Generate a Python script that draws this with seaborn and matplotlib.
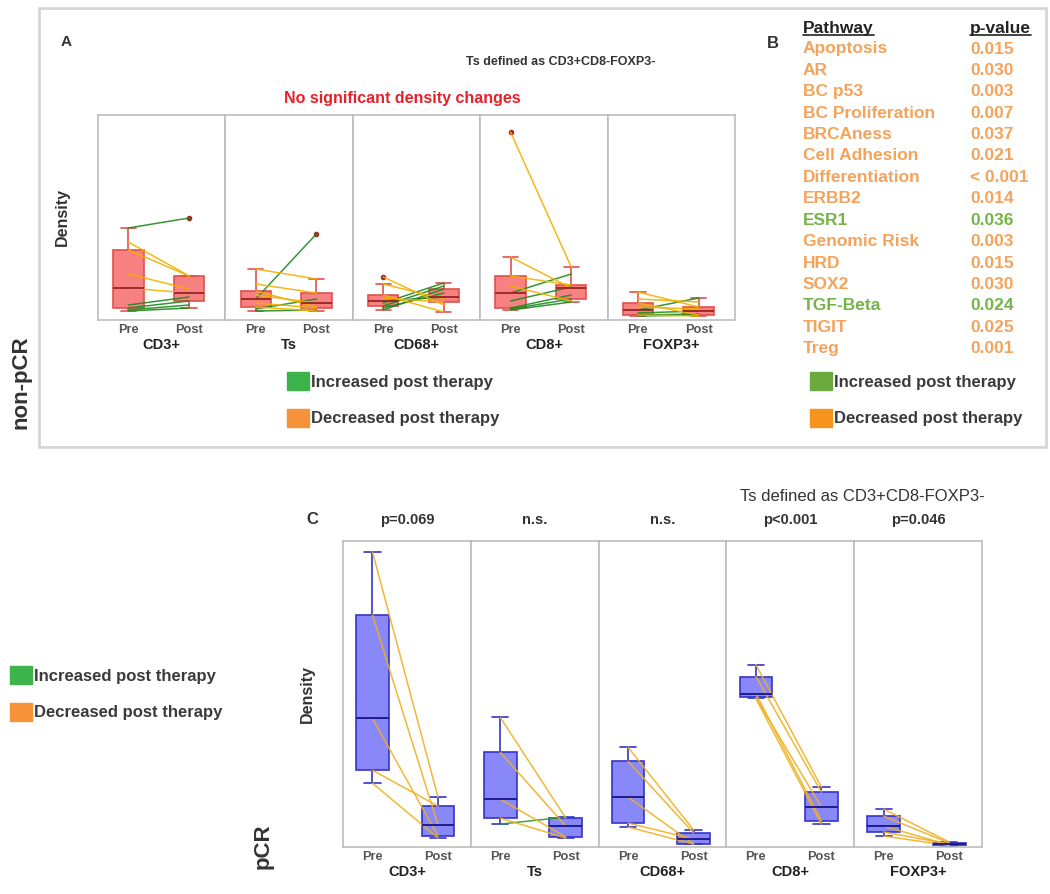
import matplotlib
matplotlib.use("Agg")
import matplotlib.pyplot as plt
from matplotlib.patches import Patch, Rectangle
from matplotlib.lines import Line2D
import seaborn as sns
import pandas as pd

# ---- data (density, paired pre/post per patient) ----
markers = ["CD3+", "Ts", "CD68+", "CD8+", "FOXP3+"]

# non-pCR, 9 patients
np_cd3_pre = [8, 9, 11, 14, 31, 45, 69, 77, 91]
np_cd3_post = [11, 14, 18, 22, 26, 30, 43, 43, 101]
np_ts_pre = [8, 10, 12, 16, 20, 24, 28, 35, 50]
np_ts_post = [9, 20, 8, 11, 85, 16, 12, 26, 40]
np_cd68_pre = [9, 11, 13, 16, 18, 21, 24, 35, 42]
np_cd68_post = [30, 26, 33, 36, 22, 17, 7, 20, 14]
np_cd8_pre = [9, 10, 11, 18, 26, 33, 43, 62, 187]
np_cd8_post = [17, 20, 24, 32, 45, 18, 34, 31, 52]
np_foxp3_pre = [3, 4, 4, 6, 9, 12, 16, 20, 27]
np_foxp3_post = [4, 5, 3, 8, 21, 10, 4, 17, 12]

# pCR, 5 patients
pc_cd3_pre = [63, 76, 128, 232, 295]
pc_cd3_post = [8, 40, 10, 21, 49]
pc_ts_pre = [22, 28, 47, 94, 129]
pc_ts_post = [29, 8, 9, 20, 28]
pc_cd68_pre = [19, 23, 49, 85, 99]
pc_cd68_post = [2, 7, 2, 13, 16]
pc_cd8_pre = [148, 149, 153, 170, 182]
pc_cd8_post = [22, 39, 25, 54, 59]
pc_foxp3_pre = [10, 14, 20, 30, 37]
pc_foxp3_post = [0.5, 2, 1, 3, 4]

pc_pvalues = ["p=0.069", "n.s.", "n.s.", "p<0.001", "p=0.046"]

# panel B table
pathways = ["Apoptosis", "AR", "BC p53", "BC Proliferation", "BRCAness",
            "Cell Adhesion", "Differentiation", "ERBB2", "ESR1", "Genomic Risk",
            "HRD", "SOX2", "TGF-Beta", "TIGIT", "Treg"]
pathway_p = ["0.015", "0.030", "0.003", "0.007", "0.037", "0.021", "< 0.001",
             "0.014", "0.036", "0.003", "0.015", "0.030", "0.024", "0.025", "0.001"]
pathway_dir = ["dec", "dec", "dec", "dec", "dec", "dec", "dec", "dec", "inc",
               "dec", "dec", "dec", "inc", "dec", "dec"]


def build(pre_lists, post_lists):
    rows = []
    for m, pre, post in zip(markers, pre_lists, post_lists):
        for i, (a, b) in enumerate(zip(pre, post)):
            ch = "Increased" if b > a else "Decreased"
            rows.append(dict(marker=m, patient=i, time="Pre", value=a, change=ch))
            rows.append(dict(marker=m, patient=i, time="Post", value=b, change=ch))
    return pd.DataFrame(rows)


df_np = build([np_cd3_pre, np_ts_pre, np_cd68_pre, np_cd8_pre, np_foxp3_pre],
              [np_cd3_post, np_ts_post, np_cd68_post, np_cd8_post, np_foxp3_post])
df_pc = build([pc_cd3_pre, pc_ts_pre, pc_cd68_pre, pc_cd8_pre, pc_foxp3_pre],
              [pc_cd3_post, pc_ts_post, pc_cd68_post, pc_cd8_post, pc_foxp3_post])

sns.set_style("white")
plt.rcParams["font.family"] = ["Liberation Sans", "DejaVu Sans"]

W, H = 1050, 894
fig = plt.figure(figsize=(W / 100, H / 100), dpi=100)


def fx(px):
    return px / W


def fy(py):
    return 1 - py / H


def draw_panel(df, x0, x1, y0, y1, box_rgba, edge, med, line_pal, ylim, xlim,
               lab_pad, titles=None):
    fw = (x1 - x0) / 5
    for k, m in enumerate(markers):
        ax = fig.add_axes([fx(x0 + k * fw), fy(y1), fw / W, (y1 - y0) / H])
        sub = df[df.marker == m]
        sns.boxplot(data=sub, x="time", y="value", order=["Pre", "Post"],
                    width=0.5, linecolor=edge, linewidth=1.2, fliersize=3,
                    boxprops={"facecolor": box_rgba},
                    medianprops={"color": med, "linewidth": 1.4},
                    flierprops={"marker": "o", "markerfacecolor": "#a52a2a",
                                "markeredgecolor": "#a52a2a"},
                    ax=ax)
        sns.lineplot(data=sub, x="time", y="value", units="patient",
                     estimator=None, hue="change", palette=line_pal,
                     linewidth=1.1, alpha=0.9, legend=False, ax=ax)
        ax.set_xlim(*xlim)
        ax.set_ylim(*ylim)
        ax.set_yticks([])
        ax.set_ylabel("Density" if k == 0 else "", fontsize=11.5,
                      fontweight="bold", color="#333", labelpad=20)
        ax.set_xlabel(m, fontsize=10.5, fontweight="bold", color="#222",
                      labelpad=lab_pad)
        ax.tick_params(axis="x", length=0, pad=3, labelsize=9.2, labelcolor="#555")
        for t in ax.get_xticklabels():
            t.set_fontweight("bold")
        for s in ax.spines.values():
            s.set_color("#bdbdbd")
            s.set_linewidth(1.2)
        if titles is not None:
            ax.set_title(titles[k], fontsize=10.5, fontweight="bold",
                         color="#333", pad=12)


# panel A (non-pCR)
draw_panel(df_np, 98, 735, 115, 320, (0.97, 0.45, 0.45, 0.9), "#e0504d",
           "#9e2a2a", {"Increased": "#1f8a1f", "Decreased": "#f2b100"},
           (-1, 204), (-0.5, 1.6), 1)
# panel C (pCR)
draw_panel(df_pc, 343, 982, 541, 847, (0.45, 0.45, 0.97, 0.85), "#3535c8",
           "#1d1d8f", {"Increased": "#2c9a2c", "Decreased": "#f0b020"},
           (-1, 306), (-0.45, 1.5), 1, titles=pc_pvalues)

# outer frame for top section
fig.add_artist(Rectangle((fx(39), fy(447)), (1046 - 39) / W, (447 - 8) / H,
                         fill=False, edgecolor="#d6d6d6", linewidth=2,
                         transform=fig.transFigure))

bold = dict(fontweight="bold")
fig.text(fx(66), fy(42), "A", fontsize=11, color="#333", ha="center", va="center", **bold)
fig.text(fx(655), fy(62), "Ts defined as CD3+CD8-FOXP3-", fontsize=9,
         color="#333", ha="right", va="center", **bold)
fig.text(fx(402), fy(98), "No significant density changes", fontsize=11.5,
         color="#e8202a", ha="center", va="center", **bold)
fig.text(fx(21), fy(382), "non-pCR", fontsize=16, color="#333", rotation=90,
         ha="center", va="center", **bold)

fig.text(fx(312), fy(520), "C", fontsize=12, color="#333", ha="center", va="center", **bold)
fig.text(fx(985), fy(497), "Ts defined as CD3+CD8-FOXP3-", fontsize=12,
         color="#333", ha="right", va="center")
fig.text(fx(263), fy(846), "pCR", fontsize=16, color="#333", rotation=90,
         ha="center", va="center", **bold)

# panel B table
fig.text(fx(773), fy(44), "B", fontsize=12, color="#333", ha="center", va="center", **bold)
hdr1 = fig.text(fx(803), fy(28), "Pathway", fontsize=12.5, color="#222",
                ha="left", va="center", **bold)
hdr2 = fig.text(fx(970), fy(28), "p-value", fontsize=12.5, color="#222",
                ha="left", va="center", **bold)
tab_col = {"dec": "#f4a35a", "inc": "#76b447"}
for i, (name, p, d) in enumerate(zip(pathways, pathway_p, pathway_dir)):
    yy = 49 + i * 21.4
    fig.text(fx(803), fy(yy), name, fontsize=12.5, color=tab_col[d],
             ha="left", va="center", **bold)
    fig.text(fx(970), fy(yy), p, fontsize=12.5, color=tab_col[d],
             ha="left", va="center", **bold)

fig.canvas.draw()
for t in (hdr1, hdr2):
    bb = t.get_window_extent()
    fig.add_artist(Line2D([bb.x0, bb.x1], [bb.y0 + 1, bb.y0 + 1], color="#222",
                          linewidth=1.2, transform=None))

# legends
leg_font = dict(family=["Liberation Sans", "DejaVu Sans"], weight="bold", size=12)


def add_legend(px, py, green, orange):
    handles = [Patch(facecolor=green, edgecolor=green),
               Patch(facecolor=orange, edgecolor=orange)]
    fig.legend(handles, ["Increased post therapy", "Decreased post therapy"],
               loc="upper left", bbox_to_anchor=(fx(px), fy(py)), frameon=False,
               borderpad=0, borderaxespad=0, handlelength=1.3, handleheight=1.3,
               handletextpad=0.15, labelspacing=1.1, prop=leg_font,
               labelcolor="#3a3a3a")


add_legend(287, 372, "#3cb44b", "#f7923a")
add_legend(810, 372, "#6aaa3e", "#f7941d")
add_legend(10, 666, "#3cb44b", "#f7923a")

fig.savefig("out.png", dpi=100)
